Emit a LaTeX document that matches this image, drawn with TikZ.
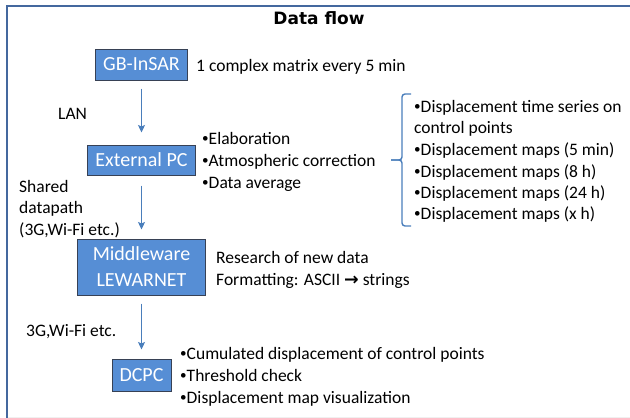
\documentclass[tikz,border=0pt]{standalone}
\usepackage{fontspec}
\setmainfont{Carlito}
\newfontfamily\titlefont{DejaVu Sans}
\newfontfamily\symfont{DejaVu Sans}
\usetikzlibrary{arrows.meta}
\definecolor{boxfill}{RGB}{86,142,213}
\definecolor{boxedge}{RGB}{55,65,85}
\definecolor{flowblue}{RGB}{74,126,187}
\definecolor{framecol}{RGB}{68,104,158}
\newcommand{\bul}{\raisebox{1.6pt}{\scalebox{0.75}{•}}}
\begin{document}
\begin{tikzpicture}[x=1pt,y=-1pt,
  box/.style={draw=boxedge, line width=1pt, fill=boxfill, text=white,
    font=\fontsize{20}{26}\selectfont, inner sep=0pt, align=center},
  txt/.style={anchor=base west, inner sep=0pt, font=\fontsize{17.5}{21.5}\selectfont},
  flow/.style={draw=flowblue, line width=1.4pt, -{Stealth[length=7.5pt,width=7pt,inset=1.5pt]}},
  bracket/.style={draw=flowblue, line width=1.4pt, rounded corners=3pt},
  frameline/.style={draw=framecol, line width=2.4pt},
]
\useasboundingbox (0,0) rectangle (630,418);
% frame
\coordinate (ftl) at (7,6);
\coordinate (ftr) at (630,6);
\coordinate (fbl) at (7,418);
\draw[frameline] (ftr) -- (ftl) -- (fbl);
\draw[black!6, line width=0.8pt] (8,417) -- (630,417);
% title
\node[font=\titlefont\bfseries\fontsize{17}{20}\selectfont, inner sep=0pt] (title) at (319,18) {Data flow};
% boxes
\node[box, minimum width=92pt, minimum height=31pt] (gb) at (141.5,64.5) {GB-InSAR};
\node[box, minimum width=108pt, minimum height=30pt] (ext) at (141.5,160) {External PC};
\node[box, minimum width=128pt, minimum height=56pt] (mw) at (141.5,267) {Middleware\\LEWARNET};
\node[box, minimum width=59pt, minimum height=32pt] (dcpc) at (141.5,375) {DCPC};
% arrows
\draw[flow, shorten <=8pt, shorten >=12pt] (gb.south) -- (ext.north);
\draw[flow, shorten <=10pt, shorten >=9pt] (ext.south) -- (mw.north);
\draw[flow, shorten <=8pt, shorten >=9pt] (mw.south) -- (dcpc.north);
% texts
\node[txt] (t1) at (196,71) {1 complex matrix every 5 min};
\node[txt] (lan) at (58,119) {LAN};
\node[txt] (e1) at (202,144) {\bul Elaboration};
\node[txt] (e2) at (202,166) {\bul Atmospheric correction};
\node[txt] (e3) at (202,188) {\bul Data average};
\node[txt] (s1) at (19,192) {Shared};
\node[txt] (s2) at (19,213) {datapath};
\node[txt] (s3) at (19,235) {(3G,Wi-Fi etc.)};
\node[txt] (r1) at (216,263) {Research of new data};
\node[txt] (r2) at (216,285) {Formatting: ASCII {\symfont\bfseries →} strings};
\node[txt] (w1) at (26,336) {3G,Wi-Fi etc.};
\node[txt] (d1) at (180,359) {\bul Cumulated displacement of control points};
\node[txt] (d2) at (180,381) {\bul Threshold check};
\node[txt] (d3) at (180,403) {\bul Displacement map visualization};
% right list
\node[txt] (l1) at (414,112) {\bul Displacement time series on};
\node[txt] (l2) at (414,133.5) {control points};
\node[txt] (l3) at (414,155) {\bul Displacement maps (5 min)};
\node[txt] (l4) at (414,177) {\bul Displacement maps (8 h)};
\node[txt] (l5) at (414,198) {\bul Displacement maps (24 h)};
\node[txt] (l6) at (414,219) {\bul Displacement maps (x h)};
% brace
\coordinate (btop) at (411,94);
\coordinate (btip) at (391,160);
\coordinate (bbot) at (411,226);
\draw[bracket] (btop) -- (402,94) -- (402,160) -- (btip);
\draw[bracket] (btip) -- (402,160) -- (402,226) -- (bbot);
\end{tikzpicture}
\end{document}
